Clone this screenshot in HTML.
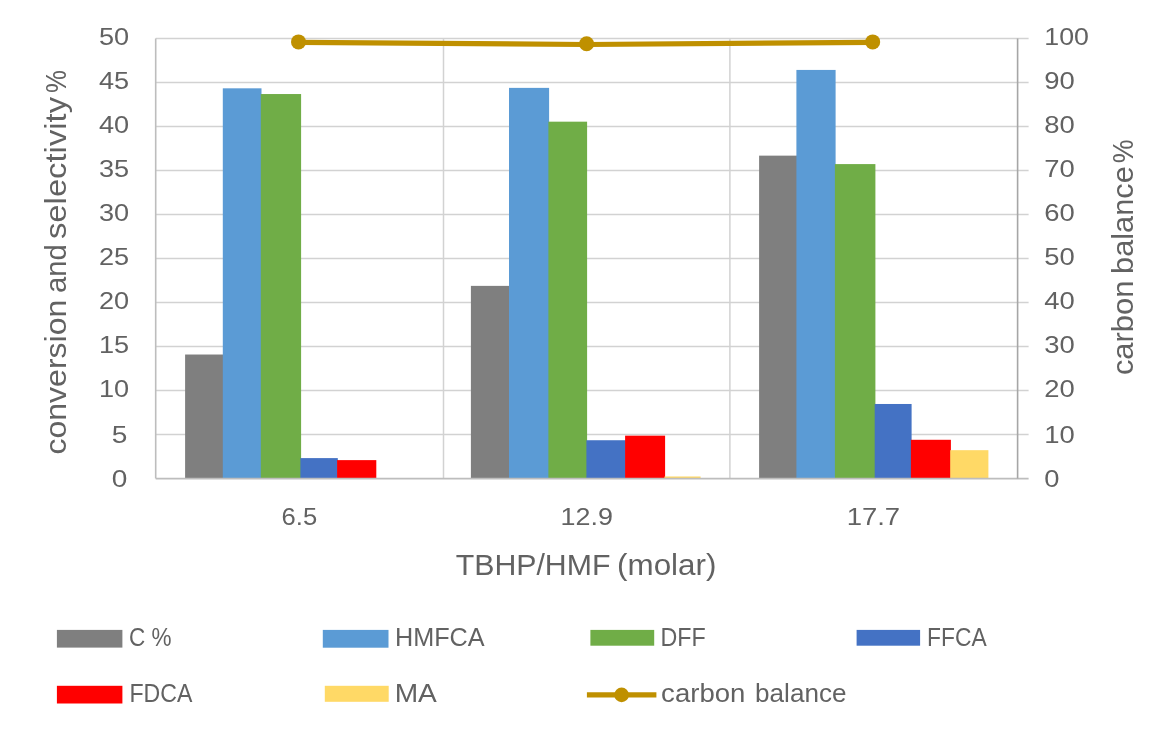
<!DOCTYPE html>
<html lang="en">
<head>
<meta charset="utf-8">
<title>Chart</title>
<style>
html,body{margin:0;padding:0;background:#fff;}
svg{display:block;}
text{font-family:"Liberation Sans",sans-serif;font-kerning:none;fill:#626262;}
.tk{font-size:24.6px;}
.lg{font-size:25.5px;}
.ti{font-size:29.5px;}
</style>
</head>
<body>
<svg width="1159" height="733" viewBox="0 0 1159 733">
<rect width="1159" height="733" fill="#ffffff"/>
<g stroke="#D2D2D2" stroke-width="1.5" fill="none">
<line x1="155.7" y1="38.60" x2="1028.6" y2="38.60"/>
<line x1="155.7" y1="82.60" x2="1028.6" y2="82.60"/>
<line x1="155.7" y1="126.60" x2="1028.6" y2="126.60"/>
<line x1="155.7" y1="170.60" x2="1028.6" y2="170.60"/>
<line x1="155.7" y1="214.60" x2="1028.6" y2="214.60"/>
<line x1="155.7" y1="258.60" x2="1028.6" y2="258.60"/>
<line x1="155.7" y1="302.60" x2="1028.6" y2="302.60"/>
<line x1="155.7" y1="346.60" x2="1028.6" y2="346.60"/>
<line x1="155.7" y1="390.60" x2="1028.6" y2="390.60"/>
<line x1="155.7" y1="434.60" x2="1028.6" y2="434.60"/>
<line x1="443.50" y1="38.6" x2="443.50" y2="478.6"/>
<line x1="729.90" y1="38.6" x2="729.90" y2="478.6"/>
</g>
<rect x="185.10" y="354.52" width="38.40" height="124.08" fill="#7F7F7F"/>
<rect x="222.80" y="88.32" width="38.70" height="390.28" fill="#5B9BD5"/>
<rect x="260.80" y="94.04" width="40.30" height="384.56" fill="#70AD47"/>
<rect x="300.40" y="458.10" width="37.40" height="20.50" fill="#4472C4"/>
<rect x="337.10" y="460.12" width="39.20" height="18.48" fill="#FF0000"/>
<rect x="470.90" y="285.88" width="38.80" height="192.72" fill="#7F7F7F"/>
<rect x="509.00" y="87.88" width="40.10" height="390.72" fill="#5B9BD5"/>
<rect x="548.40" y="121.67" width="38.70" height="356.93" fill="#70AD47"/>
<rect x="586.40" y="440.23" width="39.40" height="38.37" fill="#4472C4"/>
<rect x="625.10" y="435.66" width="40.00" height="42.94" fill="#FF0000"/>
<rect x="664.40" y="476.49" width="36.20" height="2.11" fill="#FFD966"/>
<rect x="759.10" y="155.64" width="38.00" height="322.96" fill="#7F7F7F"/>
<rect x="796.40" y="69.93" width="39.20" height="408.67" fill="#5B9BD5"/>
<rect x="834.90" y="164.09" width="40.50" height="314.51" fill="#70AD47"/>
<rect x="874.70" y="403.98" width="36.90" height="74.62" fill="#4472C4"/>
<rect x="910.90" y="439.79" width="40.00" height="38.81" fill="#FF0000"/>
<rect x="950.20" y="450.18" width="38.20" height="28.42" fill="#FFD966"/>
<g stroke="#BDBDBD" stroke-width="1.6" fill="none">
<line x1="155.7" y1="38.6" x2="155.7" y2="478.6"/>
<line x1="155.7" y1="478.6" x2="1028.6" y2="478.6"/>
<line x1="1017.6" y1="38.6" x2="1017.6" y2="478.6" stroke="#A6A6A6"/>
</g>
<polyline points="298.5,42.4 586.6,44.5 872.7,42.4" fill="none" stroke="#BF9000" stroke-width="5.2" stroke-linejoin="round"/>
<circle cx="298.5" cy="41.9" r="7.5" fill="#BF9000"/>
<circle cx="586.6" cy="43.7" r="7.5" fill="#BF9000"/>
<circle cx="872.7" cy="41.9" r="7.5" fill="#BF9000"/>
<text class="tk" x="129.2" y="45.1" text-anchor="end" textLength="30.2" lengthAdjust="spacingAndGlyphs">50</text>
<text class="tk" x="129.2" y="89.1" text-anchor="end" textLength="30.2" lengthAdjust="spacingAndGlyphs">45</text>
<text class="tk" x="129.2" y="133.1" text-anchor="end" textLength="30.2" lengthAdjust="spacingAndGlyphs">40</text>
<text class="tk" x="129.2" y="177.1" text-anchor="end" textLength="30.2" lengthAdjust="spacingAndGlyphs">35</text>
<text class="tk" x="129.2" y="221.1" text-anchor="end" textLength="30.2" lengthAdjust="spacingAndGlyphs">30</text>
<text class="tk" x="129.2" y="265.1" text-anchor="end" textLength="30.2" lengthAdjust="spacingAndGlyphs">25</text>
<text class="tk" x="129.2" y="309.1" text-anchor="end" textLength="30.2" lengthAdjust="spacingAndGlyphs">20</text>
<text class="tk" x="129.2" y="353.1" text-anchor="end" textLength="30.2" lengthAdjust="spacingAndGlyphs">15</text>
<text class="tk" x="129.2" y="397.1" text-anchor="end" textLength="30.2" lengthAdjust="spacingAndGlyphs">10</text>
<text class="tk" x="127.4" y="443.1" text-anchor="end" textLength="15.6" lengthAdjust="spacingAndGlyphs">5</text>
<text class="tk" x="127.4" y="487.1" text-anchor="end" textLength="15.6" lengthAdjust="spacingAndGlyphs">0</text>
<text class="tk" x="1044.3" y="45.1" textLength="44.6" lengthAdjust="spacingAndGlyphs">100</text>
<text class="tk" x="1044.3" y="89.1" textLength="30.5" lengthAdjust="spacingAndGlyphs">90</text>
<text class="tk" x="1044.3" y="133.1" textLength="30.5" lengthAdjust="spacingAndGlyphs">80</text>
<text class="tk" x="1044.3" y="177.1" textLength="30.5" lengthAdjust="spacingAndGlyphs">70</text>
<text class="tk" x="1044.3" y="221.1" textLength="30.5" lengthAdjust="spacingAndGlyphs">60</text>
<text class="tk" x="1044.3" y="265.1" textLength="30.5" lengthAdjust="spacingAndGlyphs">50</text>
<text class="tk" x="1044.3" y="309.1" textLength="30.5" lengthAdjust="spacingAndGlyphs">40</text>
<text class="tk" x="1044.3" y="353.1" textLength="30.5" lengthAdjust="spacingAndGlyphs">30</text>
<text class="tk" x="1044.3" y="397.1" textLength="30.5" lengthAdjust="spacingAndGlyphs">20</text>
<text class="tk" x="1044.3" y="443.1" textLength="30.5" lengthAdjust="spacingAndGlyphs">10</text>
<text class="tk" x="1044.3" y="487.1" textLength="15.2" lengthAdjust="spacingAndGlyphs">0</text>
<text class="tk" x="299.4" y="525.0" text-anchor="middle" textLength="35.6" lengthAdjust="spacingAndGlyphs">6.5</text>
<text class="tk" x="586.7" y="525.0" text-anchor="middle" textLength="52.3" lengthAdjust="spacingAndGlyphs">12.9</text>
<text class="tk" x="873.4" y="525.0" text-anchor="middle" textLength="53.5" lengthAdjust="spacingAndGlyphs">17.7</text>
<g transform="translate(0 575.2)"><text class="ti" x="455.72" y="0" textLength="154.69" lengthAdjust="spacingAndGlyphs">TBHP/HMF</text><text class="ti" x="617.05" y="0" textLength="99.39" lengthAdjust="spacingAndGlyphs">(molar)</text></g>
<g transform="translate(66.3 453.6) rotate(-90)"><text class="ti" x="-0.96" y="0" textLength="154.84" lengthAdjust="spacingAndGlyphs">conversion</text><text class="ti" x="160.56" y="0" textLength="48.83" lengthAdjust="spacingAndGlyphs">and</text><text class="ti" x="214.59" y="0" textLength="142.08" lengthAdjust="spacingAndGlyphs">selectivity</text><text class="ti" x="360.68" y="0" textLength="22.94" lengthAdjust="spacingAndGlyphs">%</text></g>
<g transform="translate(1132.6 374.2) rotate(-90)"><text class="ti" x="-0.91" y="0" textLength="94.52" lengthAdjust="spacingAndGlyphs">carbon</text><text class="ti" x="100.32" y="0" textLength="107.65" lengthAdjust="spacingAndGlyphs">balance</text><text class="ti" x="211.05" y="0" textLength="23.81" lengthAdjust="spacingAndGlyphs">%</text></g>
<rect x="56.9" y="629.9" width="65.5" height="17.7" fill="#7F7F7F"/>
<g transform="translate(0 645.8)"><text class="lg" x="128.96" y="0" textLength="42.55" lengthAdjust="spacingAndGlyphs">C %</text></g>
<rect x="322.8" y="629.9" width="65.7" height="17.8" fill="#5B9BD5"/>
<g transform="translate(0 645.8)"><text class="lg" x="394.93" y="0" textLength="89.72" lengthAdjust="spacingAndGlyphs">HMFCA</text></g>
<rect x="590.4" y="629.9" width="63.8" height="15.8" fill="#70AD47"/>
<g transform="translate(0 645.8)"><text class="lg" x="660.39" y="0" textLength="45.24" lengthAdjust="spacingAndGlyphs">DFF</text></g>
<rect x="856.6" y="629.9" width="63.5" height="15.8" fill="#4472C4"/>
<g transform="translate(0 645.8)"><text class="lg" x="927.03" y="0" textLength="59.62" lengthAdjust="spacingAndGlyphs">FFCA</text></g>
<rect x="56.9" y="685.8" width="65.5" height="17.7" fill="#FF0000"/>
<g transform="translate(0 701.6)"><text class="lg" x="129.40" y="0" textLength="62.94" lengthAdjust="spacingAndGlyphs">FDCA</text></g>
<rect x="324.8" y="685.8" width="63.9" height="16.0" fill="#FFD966"/>
<g transform="translate(0 701.6)"><text class="lg" x="394.69" y="0" textLength="42.16" lengthAdjust="spacingAndGlyphs">MA</text></g>
<line x1="586.9" y1="694.8" x2="656.4" y2="694.8" stroke="#BF9000" stroke-width="5.2"/>
<circle cx="621.6" cy="694.9" r="7.3" fill="#BF9000"/>
<g transform="translate(0 701.5)"><text class="lg" x="661.13" y="0" textLength="84.26" lengthAdjust="spacingAndGlyphs">carbon</text><text class="lg" x="755.12" y="0" textLength="91.34" lengthAdjust="spacingAndGlyphs">balance</text></g>
</svg>
</body>
</html>
